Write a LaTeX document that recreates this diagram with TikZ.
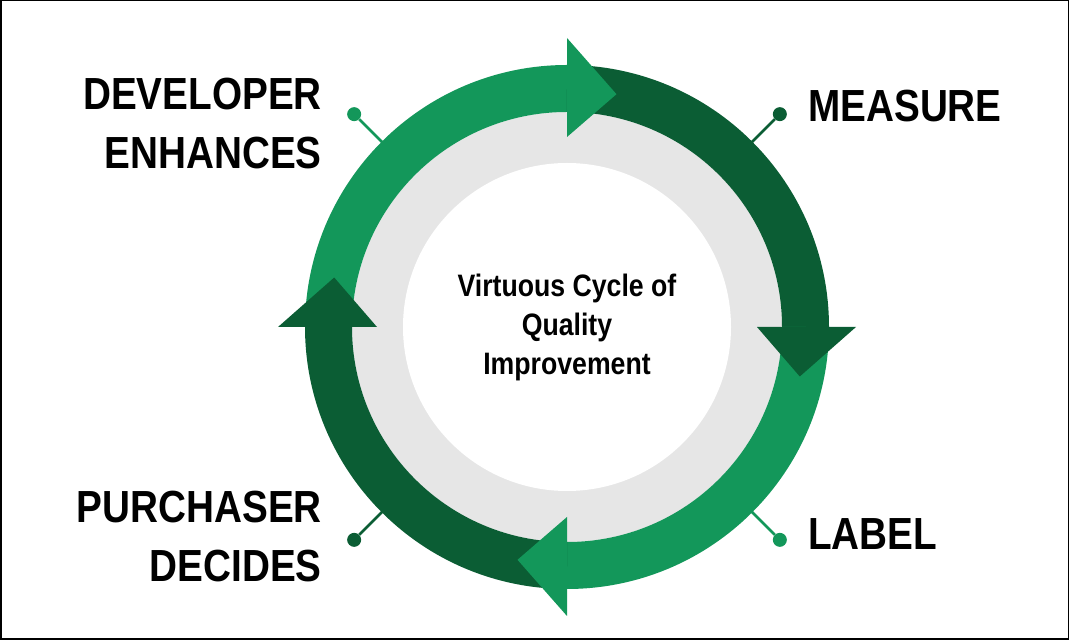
\documentclass[tikz,border=0pt]{standalone}
\usepackage{fontspec}
\setmainfont{Liberation Sans}
\newfontfamily\cyclefont{Liberation Sans}[FakeStretch=0.86]
\usetikzlibrary{positioning}
\usetikzlibrary{calc}
\definecolor{lightgreen}{HTML}{13975A}
\definecolor{darkgreen}{HTML}{0B5D34}
\definecolor{ringgray}{HTML}{E6E6E6}
\tikzstyle{band}=[line width=47pt]
\tikzstyle{pin}=[circle,minimum size=14pt,inner sep=0pt]
\tikzstyle{stem}=[draw,line width=2.5pt]
\tikzstyle{steplabel}=[font=\cyclefont\fontsize{45}{59}\selectfont\bfseries,inner sep=0pt]
\tikzstyle{title}=[font=\cyclefont\fontsize{31}{39}\selectfont\bfseries,align=center,inner sep=0pt]

\begin{document}
\begin{tikzpicture}[x=1pt,y=1pt]
    \useasboundingbox (0,0) rectangle (1069,640);
    \draw[line width=1.5pt] (0.75,0.75) rectangle (1068.25,639.25);
    \coordinate (c) at (567,313);

    % Gray disc behind the cycle
    \fill[ringgray] (c) circle (215);
    \fill[white] (c) circle (164);

    % First we draw the four bands
    \foreach \from/\to/\col in {180/90/lightgreen, 90/0/darkgreen, 0/-90/lightgreen, -90/-180/darkgreen}
        \draw[band,\col] (c) ++(\from:238.5) arc[start angle=\from, end angle=\to, radius=238.5];

    % Then the arrow heads on top of the next band
    \foreach \at/\col [evaluate=\at as \tip using \at-12] in {90/lightgreen, 0/darkgreen, -90/lightgreen, -180/darkgreen}
        \fill[\col,shift={(c)}] (\at:289) -- (\tip:238) -- (\at:190) -- cycle;

    % Pins with their stems
    \foreach \ang/\col/\name in {135/lightgreen/pdev, 45/darkgreen/pmea, -45/lightgreen/plab, -135/darkgreen/ppur}{
        \coordinate (\name-base) at ($(c)+(\ang:258)$);
        \node[pin,fill=\col] (\name) at ($(c)+(\ang:301)$) {};
        \path[stem,\col] (\name-base) -- (\name);
    }

    % Labels
    \node[steplabel,anchor=east,align=right] (dev) at (322,516) {DEVELOPER\\ENHANCES};
    \node[steplabel,anchor=west] (mea) at (808,533.5) {MEASURE};
    \node[steplabel,anchor=west] (lab) at (808,105.5) {LABEL};
    \node[steplabel,anchor=east,align=right] (pur) at (322,103.5) {PURCHASER\\DECIDES};
    \node[title] (cycle) at (c) {Virtuous Cycle of\\Quality\\Improvement};
\end{tikzpicture}
\end{document}
